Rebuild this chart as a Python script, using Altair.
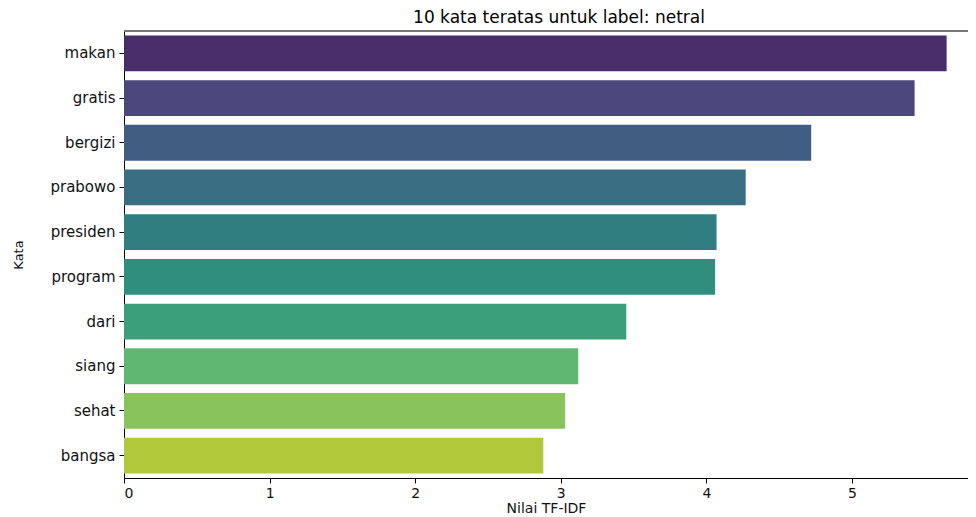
import altair as alt
import pandas as pd

words = ["makan", "gratis", "bergizi", "prabowo", "presiden",
         "program", "dari", "siang", "sehat", "bangsa"]
scores = [5.65, 5.43, 4.72, 4.27, 4.07, 4.06, 3.45, 3.12, 3.03, 2.88]
colors = ["#492d6a", "#4b477c", "#415d82", "#386d82", "#307e80",
          "#2f8e7e", "#3b9f7b", "#60b772", "#88c45b", "#b2c83b"]

df = pd.DataFrame({"Kata": words, "Nilai": scores})

W, H = 844, 447
FONT = "DejaVu Sans"

bars = alt.Chart(df).mark_bar().encode(
    x=alt.X("Nilai:Q", title="Nilai TF-IDF",
            scale=alt.Scale(domain=[0, 5.797], nice=False, zero=True),
            axis=alt.Axis(values=[0, 1, 2, 3, 4, 5], format="d", grid=False,
                          domainColor="#000", tickColor="#000", tickSize=5,
                          labelFontSize=14, titleFontSize=14, titlePadding=1,
                          labelPadding=3)),
    y=alt.Y("Kata:N", title="Kata", sort=words,
            scale=alt.Scale(paddingInner=0.2, paddingOuter=0.1),
            axis=alt.Axis(grid=False, domainColor="#000", tickColor="#000",
                          tickSize=5, labelFontSize=15, titleFontSize=13,
                          labelPadding=4, titlePadding=24)),
    color=alt.Color("Kata:N", scale=alt.Scale(domain=words, range=colors),
                    legend=None),
)

top = alt.Chart(df).mark_rule(color="#777", strokeWidth=1.5).encode(
    x=alt.value(0), x2=alt.value(W), y=alt.value(0)
)

chart = alt.layer(bars, top).properties(
    width=W, height=H,
    title=alt.TitleParams("10 kata teratas untuk label: netral", fontSize=17,
                          fontWeight="normal", font=FONT, offset=3, dx=13),
    autosize=alt.AutoSizeParams(type="none"),
    padding={"left": 116, "top": 23, "right": 0, "bottom": 36},
).configure_view(stroke=None).configure_axis(
    labelFont=FONT, titleFont=FONT, labelColor="#111", titleColor="#111",
    titleFontWeight="normal"
)

chart.save("out.html", embed_options={"renderer": "svg", "actions": False})
